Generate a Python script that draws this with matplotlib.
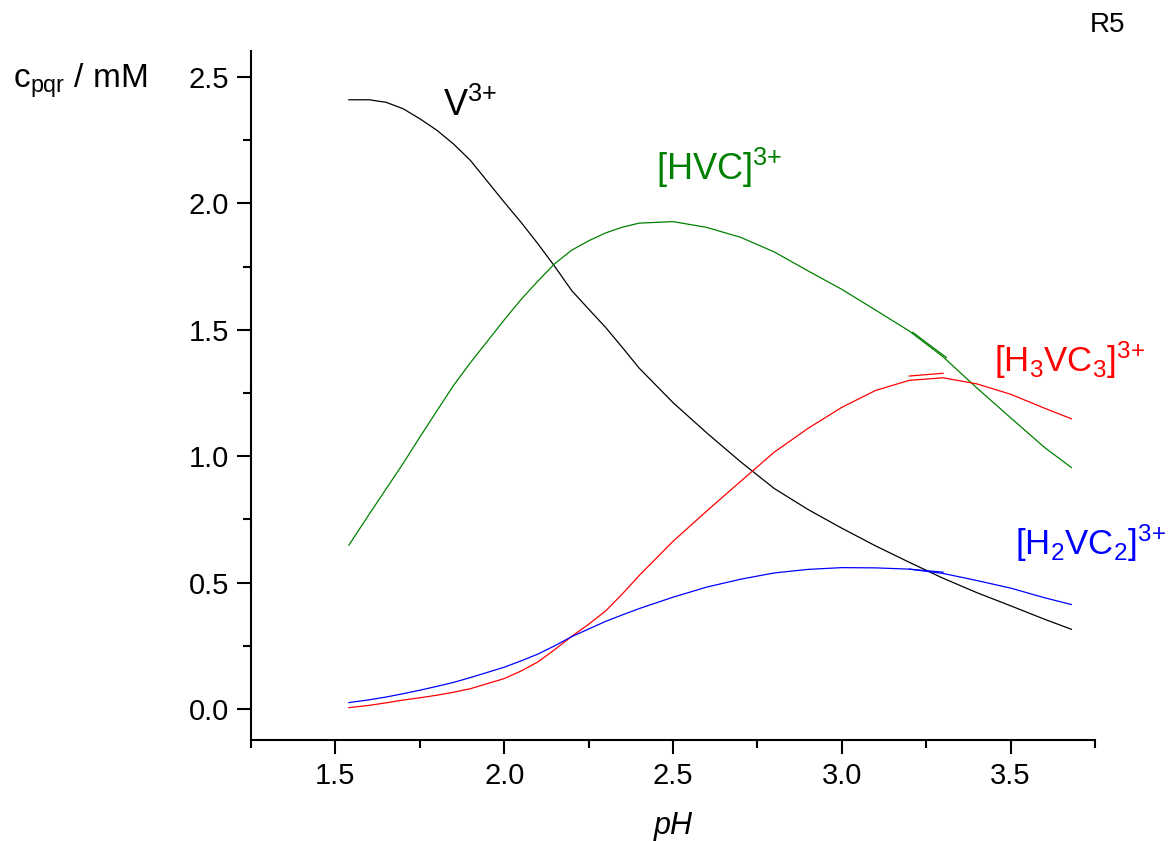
import numpy as np
import matplotlib
matplotlib.use('Agg')
import matplotlib.pyplot as plt
from matplotlib.ticker import MultipleLocator

plt.rcParams['font.family'] = ['Liberation Sans', 'DejaVu Sans']
plt.rcParams['mathtext.fontset'] = 'custom'
plt.rcParams['mathtext.rm'] = 'Liberation Sans'
plt.rcParams['mathtext.it'] = 'Liberation Sans:italic'

# values
ph = [1.54, 1.6, 1.65, 1.7, 1.75, 1.8, 1.85, 1.9, 2.0, 2.05, 2.1, 2.15, 2.2,
      2.25, 2.3, 2.35, 2.4, 2.5, 2.6, 2.7, 2.8, 2.9, 3.0, 3.1, 3.2, 3.3, 3.4,
      3.5, 3.6, 3.68]
v3 = [2.41, 2.41, 2.40, 2.375, 2.335, 2.29, 2.235, 2.17, 2.005, 1.925, 1.84,
      1.75, 1.655, 1.582, 1.51, 1.43, 1.348, 1.212, 1.092, 0.978, 0.872,
      0.789, 0.715, 0.645, 0.58, 0.517, 0.46, 0.408, 0.355, 0.315]
hvc = [0.648, 0.77, 0.87, 0.97, 1.075, 1.178, 1.28, 1.37, 1.539, 1.62, 1.693,
       1.762, 1.815, 1.852, 1.883, 1.906, 1.922, 1.928, 1.905, 1.866, 1.808,
       1.733, 1.66, 1.578, 1.495, 1.393, 1.27, 1.152, 1.035, 0.955]
h3vc3 = [0.005, 0.014, 0.024, 0.035, 0.044, 0.054, 0.066, 0.08, 0.12, 0.15,
         0.186, 0.235, 0.287, 0.335, 0.387, 0.455, 0.528, 0.663, 0.783, 0.9,
         1.016, 1.11, 1.193, 1.26, 1.30, 1.31, 1.286, 1.245, 1.19, 1.148]
h2vc2 = [0.025, 0.036, 0.047, 0.06, 0.074, 0.089, 0.105, 0.124, 0.165, 0.19,
         0.217, 0.25, 0.286, 0.316, 0.346, 0.372, 0.397, 0.442, 0.482, 0.513,
         0.538, 0.552, 0.559, 0.558, 0.553, 0.536, 0.508, 0.478, 0.44, 0.413]

# short overlapping bits near pH 3.2-3.3
ph_extra = [3.20, 3.30]
h3vc3_extra = [1.317, 1.328]
hvc_extra = [3.21, 3.31]
hvc_extra_c = [1.49, 1.39]
h2vc2_extra = [0.553, 0.541]

fig = plt.figure(figsize=(11.69, 8.41), dpi=100)
ax = fig.add_axes([251/1169, 1-740/841, (1095-251)/1169, (740-51)/841])

ax.plot(ph, v3, color='black', lw=0.9)
ax.plot(ph, hvc, color='#008000', lw=0.9)
ax.plot(ph, h3vc3, color='#ff0000', lw=0.9)
ax.plot(ph, h2vc2, color='#0000ff', lw=0.9)
ax.plot(ph_extra, h3vc3_extra, color='#ff0000', lw=0.9)
ax.plot(hvc_extra, hvc_extra_c, color='#008000', lw=0.9)
ax.plot(ph_extra, h2vc2_extra, color='#0000ff', lw=0.9)

ax.set_xlim(1.25, 3.75)
ax.set_ylim(-0.123, 2.603)
ax.xaxis.set_major_locator(MultipleLocator(0.5))
ax.xaxis.set_minor_locator(MultipleLocator(0.25))
ax.yaxis.set_major_locator(MultipleLocator(0.5))
ax.yaxis.set_minor_locator(MultipleLocator(0.25))
ax.xaxis.set_major_formatter(lambda v, p: '%.1f' % v)
ax.yaxis.set_major_formatter(lambda v, p: '%.1f' % v)

for s in ['top', 'right']:
    ax.spines[s].set_visible(False)
for s in ['left', 'bottom']:
    ax.spines[s].set_linewidth(1.5)
ax.tick_params(which='major', direction='out', length=10, width=1.5,
               labelsize=21, pad=6)
ax.tick_params(which='minor', direction='out', length=6, width=1.5)

ax.text(1.82, 2.345, 'V$^{3{+}}$', fontsize=26, color='black')
ax.text(2.45, 2.093, '[HVC]$^{3{+}}$', fontsize=26, color='#008000')
ax.text(3.45, 1.333, '[H$_3$VC$_3$]$^{3{+}}$', fontsize=25, color='#ff0000')
ax.text(3.512, 0.609, '[H$_2$VC$_2$]$^{3{+}}$', fontsize=25, color='#0000ff')

fig.text(13/1169, 1-88/841, 'c$_{\\mathrm{pqr}}$ / mM', fontsize=24,
         va='baseline')
fig.text(673/1169, 1-834/841, 'pH', fontsize=22, style='italic',
         ha='center', va='baseline')
fig.text(1090/1169, 1-32/841, 'R5', fontsize=20, va='baseline')

fig.savefig('out.png', dpi=100)
